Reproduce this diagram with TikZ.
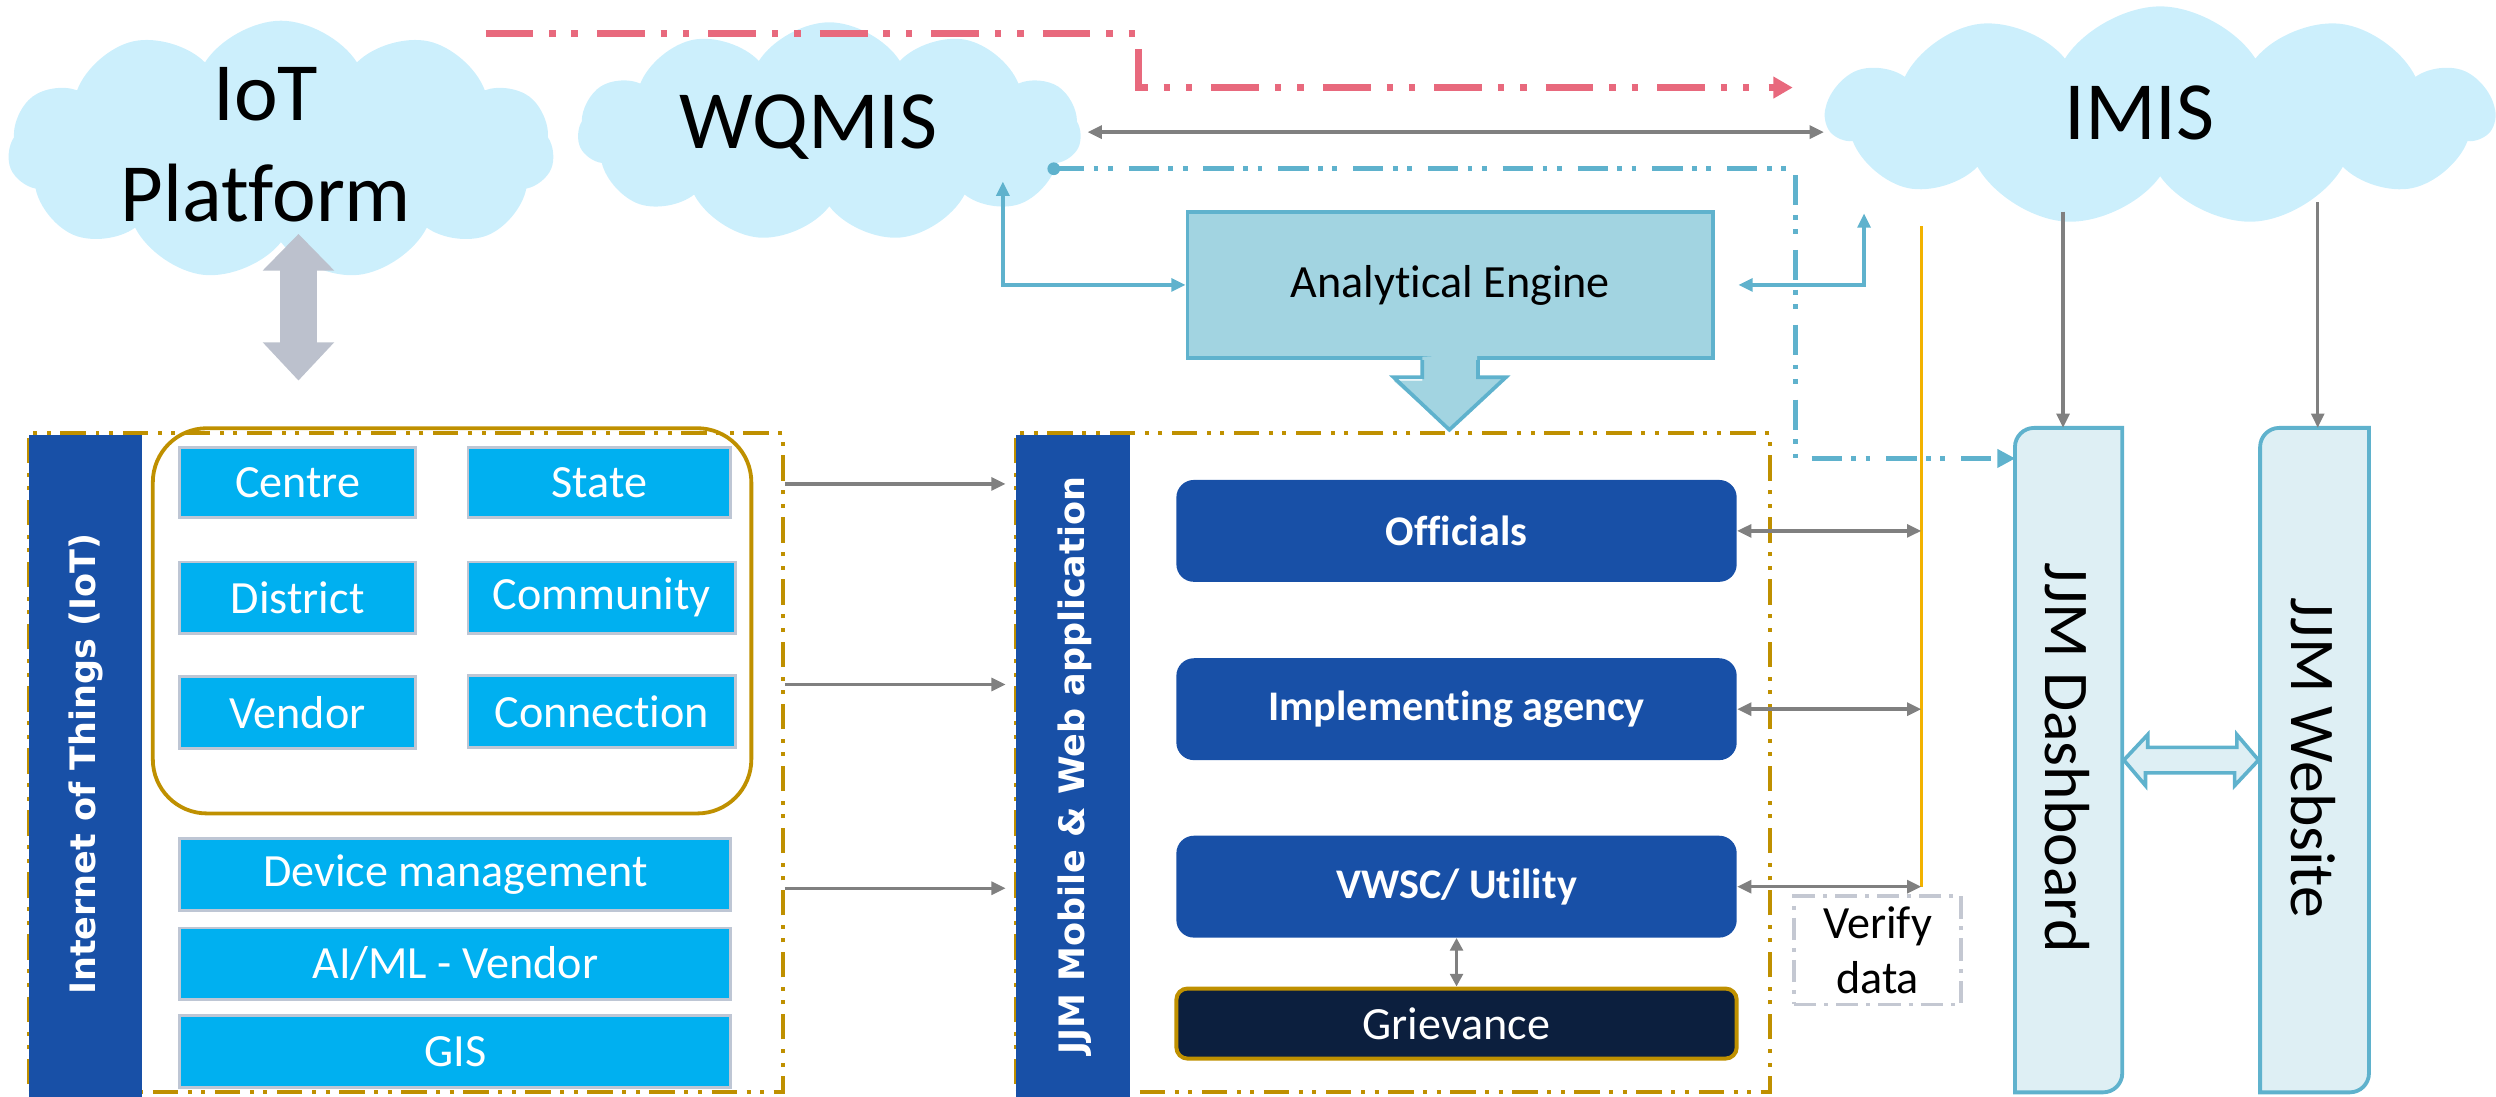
\documentclass[tikz,border=0pt]{standalone}
\usepackage{fontspec}
\setmainfont{Carlito}[Ligatures=CommonOff]
\newfontfamily\dvs{DejaVu Sans}
\usetikzlibrary{arrows.meta,shapes.symbols,calc}
\definecolor{cloudc}{RGB}{204,239,252}
\definecolor{redl}{RGB}{232,105,125}
\definecolor{grayl}{RGB}{128,128,128}
\definecolor{bluel}{RGB}{95,178,205}
\definecolor{aefill}{RGB}{162,212,225}
\definecolor{iotbox}{RGB}{0,176,240}
\definecolor{iotbord}{RGB}{190,198,212}
\definecolor{navy}{RGB}{24,80,167}
\definecolor{gold}{RGB}{191,144,0}
\definecolor{yell}{RGB}{242,178,0}
\definecolor{griev}{RGB}{12,31,62}
\definecolor{dashfill}{RGB}{222,239,244}
\definecolor{bigarr}{RGB}{188,193,205}
\definecolor{verif}{RGB}{196,200,210}
\tikzset{
 cloudn/.style={cloud, cloud puffs=11, cloud puff arc=115, fill=cloudc, draw=none, inner sep=0pt},
 cloudt/.style={font=\fontsize{52}{63}\selectfont, align=center, inner sep=0pt},
 iotb/.style={draw=iotbord, line width=1.8pt, fill=iotbox, text=white, font=\fontsize{29}{34}\selectfont, inner sep=0pt, minimum height=45pt},
 appb/.style={fill=navy, rounded corners=11pt, text=white, font=\bfseries\fontsize{26.5}{32}\selectfont, inner sep=0pt, minimum width=352pt, minimum height=64pt},
 vbar/.style={fill=navy, inner sep=0pt, minimum width=71pt, minimum height=416pt},
 vlab/.style={text=white, font=\dvs\bfseries\fontsize{22}{26}\selectfont, inner sep=0pt},
 frame/.style={draw=gold, line width=2.2pt, dash pattern=on 16pt off 6pt on 2.5pt off 6pt on 2.5pt off 6pt, inner sep=0pt, minimum width=474pt, minimum height=414pt},
 garr/.style={draw=grayl, line width=2.2pt, -{Triangle[length=9pt,width=8pt]}},
 gdbl/.style={draw=grayl, line width=2.2pt, {Triangle[length=9pt,width=8pt]}-{Triangle[length=9pt,width=8pt]}},
 bsol/.style={draw=bluel, line width=2.3pt},
 bdd/.style={draw=bluel, line width=3pt, dash pattern=on 19pt off 6pt on 3pt off 6pt on 3pt off 10pt},
 redd/.style={draw=redl, line width=4.5pt, dash pattern=on 30pt off 10pt on 4pt off 10pt on 4pt off 12pt},
 sidebox/.style={fill=dashfill, draw=bluel, line width=2.4pt},
}
\begin{document}
\begin{tikzpicture}[x=1pt,y=-1pt]
\useasboundingbox (0,0) rectangle (1568,689);
% clouds
\node[cloudn, minimum width=343pt, minimum height=163pt] (iotc) at (176.5,94.5) {};
\node[cloudn, minimum width=316pt, minimum height=138pt] (wqc) at (521,83) {};
\node[cloudn, minimum width=419pt, minimum height=138pt] (imc) at (1357,73) {};
\node[cloudt] (iott) at (167,91) {IoT\\Platform};
\node[cloudt] (wqt) at (508,80) {WQMIS};
\node[cloudt] (imt) at (1344,71) {IMIS};
% big gray double arrow
\fill[bigarr] (187.5,147) -- (210,170) -- (199,170) -- (199,215) -- (210,215) -- (187.5,239) -- (165,215) -- (176,215) -- (176,170) -- (165,170) -- cycle;
% red dash-dot
\coordinate (redS) at (305,21);
\coordinate (redM) at (715,21);
\coordinate (redE) at (1126,55);
\draw[redd] (redS) -- (redM) |- ($(redE)+(-10,0)$);
\fill[redl] (redE) -- ++(-12,-7) -- ++(0,14) -- cycle;
% gray WQMIS <-> IMIS
\draw[gdbl] (wqc.east) ++(4,0) coordinate (gwl) -- (gwl -| imc.west);
% analytical engine
\node[draw=bluel, line width=2.3pt, fill=aefill, minimum width=330pt, minimum height=92pt, inner sep=0pt, font=\fontsize{29}{34}\selectfont] (ae) at (911,179) {Analytical Engine};
\fill[aefill] ($(ae.south)+(-17.5,-2)$) -- ++(0,15) -- ++(-18,0) -- (910,270) -- (946,237) -- ++(-18,0) -- ++(0,-15) -- cycle;
\draw[bluel, line width=2.3pt, line join=miter] ($(ae.south)+(-17.5,0)$) -- (893.5,237) -- (875.5,237) -- (910.5,270) -- (946,237) -- (928.5,237) -- ($(ae.south)+(17.5,0)$);
% blue connectors
\coordinate (wqa) at (630,114);
\draw[bsol, {Triangle[length=9pt,width=8pt]}-{Triangle[length=9pt,width=8pt]}] (wqa) |- (ae.west);
\coordinate (aer) at (1092,179);
\coordinate (ima) at (1171,134);
\draw[bsol, {Triangle[length=9pt,width=8pt]}-{Triangle[length=9pt,width=8pt]}] (aer) -| (ima);
% frames
\node[frame] (iotf) at (255,479) {};
\node[frame] (jf) at (875,479) {};
% bars
\node[vbar] (ibar) at (53.5,481) {};
\node[vlab, rotate=90] (ilab) at (54,480) {Internet of Things (IoT)};
\node[vbar, minimum width=72pt] (jbar) at (674,481) {};
\node[vlab, rotate=90] (jlab) at (675,481) {JJM Mobile \& Web application};
% gold rounded box
\node[draw=gold, line width=2.4pt, rounded corners=34pt, minimum width=376pt, minimum height=242pt, inner sep=0pt] (grp) at (284,390) {};
% iot boxes
\node[iotb, minimum width=148pt, minimum height=44pt] (centre) at (187,303) {Centre};
\node[iotb, minimum width=165pt, minimum height=44pt] (state) at (376.5,303) {State};
\node[iotb, minimum width=148pt] (district) at (187,375.5) {District};
\node[iotb, minimum width=168pt] (community) at (378,375.5) {Community};
\node[iotb, minimum width=148pt] (vendor) at (187,447.5) {Vendor};
\node[iotb, minimum width=168pt] (connection) at (378,447) {Connection};
\node[iotb, minimum width=346pt] (devm) at (286,549.5) {Device management};
\node[iotb, minimum width=346pt] (aiml) at (286,605.5) {AI/ML - Vendor};
\node[iotb, minimum width=346pt] (gis) at (286,660.5) {GIS};
% arrows iot -> app
\draw[garr, shorten >=6pt] (iotf.east |- 0,304) -- (jbar.west |- 0,304);
\draw[garr, shorten >=6pt] (iotf.east |- 0,430) -- (jbar.west |- 0,430);
\draw[garr, shorten >=6pt] (iotf.east |- 0,558) -- (jbar.west |- 0,558);
% app boxes
\node[appb] (off) at (915,333.5) {Officials};
\node[appb] (ia) at (915,445.5) {Implementing agency};
\node[appb] (vw) at (915,557) {VWSC/ Utility};
\node[fill=griev, draw=gold, line width=2.5pt, rounded corners=7pt, minimum width=352pt, minimum height=44pt, inner sep=0pt, text=white, font=\fontsize{29}{34}\selectfont] (gr) at (915,643) {Grievance};
\draw[draw=grayl, line width=2pt, {Triangle[length=8pt,width=8pt]}-{Triangle[length=8pt,width=8pt]}] (vw.south) -- (gr.north);
% blue dash-dot to dashboard
\coordinate (bdot) at (662,106);
\coordinate (bturn) at (1128,288);
% yellow line
\coordinate (yt) at (1207,142);
\coordinate (yb) at (1207,557);
\draw[yell, line width=2.2pt] (yt) -- (yb);
\draw[gdbl] (off.east) -- (off.east -| yt);
\draw[gdbl] (ia.east) -- (ia.east -| yt);
\draw[gdbl] (vw.east) -- (vw.east -| yt);
% verify data
\node[draw=verif, line width=2.2pt, dash pattern=on 14pt off 5pt on 2.5pt off 5pt, minimum width=105pt, minimum height=68pt, inner sep=0pt, align=center, font=\fontsize{29}{35}\selectfont] (ver) at (1179.5,597) {Verify\\data};
% dashboard & website
\node[minimum width=67pt, minimum height=417pt, inner sep=0pt] (dsh) at (1299.5,477.5) {};
\node[minimum width=68pt, minimum height=417pt, inner sep=0pt] (web) at (1454,477.5) {};
\foreach \b in {dsh,web}{
 \draw[sidebox] (\b.west) [rounded corners=12pt] -- (\b.north west) -- (\b.north) [sharp corners] -- (\b.north east) -- (\b.east) [rounded corners=12pt] -- (\b.south east) -- (\b.south) [sharp corners] -- (\b.south west) -- cycle;
}
\node[rotate=-90, font=\fontsize{40}{48}\selectfont, inner sep=0pt] (dsht) at (1299,476) {JJM Dashboard};
\node[rotate=-90, font=\fontsize{40}{48}\selectfont, inner sep=0pt] (webt) at (1453,476) {JJM Website};
\fill[dashfill] ($(dsh.east)+(1,0)$) -- ++(15,-16) -- ++(0,8) -- ++(56,0) -- ++(0,-8) -- ($(web.west)+(-1,0)$) -- ++(-15,16) -- ++(0,-8) -- ++(-56,0) -- ++(0,8) -- cycle;
\draw[bluel, line width=2.3pt, line join=miter] ($(dsh.east)+(1,0)$) -- ++(15,-16) -- ++(0,8) -- ++(56,0) -- ++(0,-8) -- ($(web.west)+(-1,0)$) -- ++(-15,16) -- ++(0,-8) -- ++(-56,0) -- ++(0,8) -- cycle;
% blue dash-dot path
\fill[bluel] (bdot) circle (4pt);
\draw[bdd] (bdot) -| (bturn) -- ($(bturn -| dsh.west)+(-10,0)$);
\fill[bluel] (bturn -| dsh.west) -- ++(-11,-6) -- ++(0,12) -- cycle;
% IMIS -> dashboard / website
\coordinate (imd) at (1296,133);
\coordinate (imw) at (1456,127);
\draw[garr] (imd) -- (imd |- dsh.north);
\draw[garr] (imw) -- (imw |- web.north);
\end{tikzpicture}
\end{document}
